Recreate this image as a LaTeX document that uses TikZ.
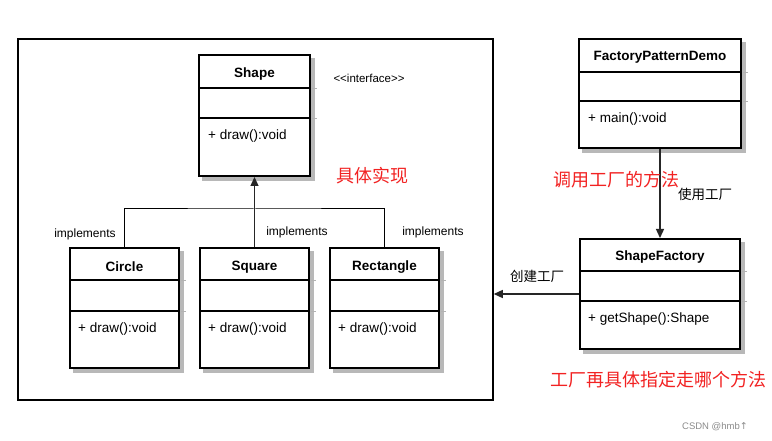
\documentclass[tikz,border=0pt]{standalone}
\usepackage{fontspec}
\setmainfont{Liberation Sans}
\newfontfamily\cjk{Noto Sans CJK SC}
\newfontfamily\djv{DejaVu Sans}
\usetikzlibrary{arrows.meta,backgrounds}
\definecolor{redtxt}{HTML}{F22222}
\begin{document}
\begin{tikzpicture}[x=1pt,y=-1pt,
  classbox/.style={draw=black, line width=2pt, fill=white, inner sep=0pt},
  shadowbox/.style={fill=black!28},
  divider/.style={line width=2pt},
  stub/.style={draw=black!30, line width=0.8pt},
  title/.style={font=\fontsize{13.5}{16}\selectfont\bfseries, inner sep=0pt, yshift=-2pt},
  method/.style={font=\fontsize{13.5}{16}\selectfont, anchor=west, inner sep=0pt, yshift=-2.5pt},
  small/.style={font=\fontsize{12}{14}\selectfont, inner sep=0pt, yshift=-1.5pt},
  redcn/.style={font=\fontsize{18}{21}\selectfont\cjk, text=redtxt, inner sep=0pt},
  cn/.style={font=\fontsize{13.5}{16}\selectfont\cjk, inner sep=0pt},
  conn/.style={line width=1.3pt, draw=black!85},
  thin/.style={line width=1pt, draw=black},
  tip/.style={-{Triangle[length=9pt,width=8pt]}}
]
\useasboundingbox (0,0) rectangle (772,441);

% big frame
\node[draw, line width=1.5pt, minimum width=475pt, minimum height=361pt, inner sep=0pt] (frame) at (255.5,219.5) {};

% Shape
\node[classbox, minimum width=111pt, minimum height=120.5pt] (shape) at (254.5,115.75) {};
\draw[divider] (shape.west |- 0,88) -- (shape.east |- 0,88);
\draw[divider] (shape.west |- 0,118) -- (shape.east |- 0,118);
\draw[stub] ([xshift=1pt]shape.east |- 0,88) -- ([xshift=6pt]shape.east |- 0,88);
\draw[stub] ([xshift=1pt]shape.east |- 0,118) -- ([xshift=6pt]shape.east |- 0,118);
\node[title] (shapet) at (254.5,72) {Shape};
\node[method] (shapem) at (208,134) {+ draw():void};

% Circle
\node[classbox, minimum width=109pt, minimum height=120pt] (circle) at (124.5,308) {};
\draw[divider] (circle.west |- 0,280) -- (circle.east |- 0,280);
\draw[divider] (circle.west |- 0,311) -- (circle.east |- 0,311);
\draw[stub] ([xshift=1pt]circle.east |- 0,280) -- ([xshift=6pt]circle.east |- 0,280);
\draw[stub] ([xshift=1pt]circle.east |- 0,311) -- ([xshift=6pt]circle.east |- 0,311);
\node[title] (circlet) at (124.5,265) {Circle};
\node[method] (circlem) at (78,327) {+ draw():void};

% Square
\node[classbox, minimum width=109pt, minimum height=120pt] (square) at (254.5,308) {};
\draw[divider] (square.west |- 0,280) -- (square.east |- 0,280);
\draw[divider] (square.west |- 0,311) -- (square.east |- 0,311);
\draw[stub] ([xshift=1pt]square.east |- 0,280) -- ([xshift=6pt]square.east |- 0,280);
\draw[stub] ([xshift=1pt]square.east |- 0,311) -- ([xshift=6pt]square.east |- 0,311);
\node[title] (squaret) at (254.5,265) {Square};
\node[method] (squarem) at (208,327) {+ draw():void};

% Rectangle
\node[classbox, minimum width=109pt, minimum height=120pt] (rect) at (384.5,308) {};
\draw[divider] (rect.west |- 0,280) -- (rect.east |- 0,280);
\draw[divider] (rect.west |- 0,311) -- (rect.east |- 0,311);
\draw[stub] ([xshift=1pt]rect.east |- 0,280) -- ([xshift=6pt]rect.east |- 0,280);
\draw[stub] ([xshift=1pt]rect.east |- 0,311) -- ([xshift=6pt]rect.east |- 0,311);
\node[title] (rectt) at (384.5,265) {Rectangle};
\node[method] (rectm) at (338,327) {+ draw():void};

% FactoryPatternDemo
\node[classbox, minimum width=162pt, minimum height=109pt] (demo) at (660,93.5) {};
\draw[divider] (demo.west |- 0,72) -- (demo.east |- 0,72);
\draw[divider] (demo.west |- 0,101) -- (demo.east |- 0,101);
\draw[stub] ([xshift=1pt]demo.east |- 0,72) -- ([xshift=6pt]demo.east |- 0,72);
\draw[stub] ([xshift=1pt]demo.east |- 0,101) -- ([xshift=6pt]demo.east |- 0,101);
\node[title] (demot) at (660,55) {FactoryPatternDemo};
\node[method] (demom) at (588,117) {+ main():void};

% ShapeFactory
\node[classbox, minimum width=160pt, minimum height=110pt] (factory) at (660,294) {};
\draw[divider] (factory.west |- 0,271) -- (factory.east |- 0,271);
\draw[divider] (factory.west |- 0,301) -- (factory.east |- 0,301);
\draw[stub] ([xshift=1pt]factory.east |- 0,271) -- ([xshift=6pt]factory.east |- 0,271);
\draw[stub] ([xshift=1pt]factory.east |- 0,301) -- ([xshift=6pt]factory.east |- 0,301);
\node[title] (factoryt) at (660,255) {ShapeFactory};
\node[method] (factorym) at (588,317) {+ getShape():Shape};

% shadows and white ground
\begin{scope}[on background layer]
  \fill[white] (0,0) rectangle (772,441);
  \foreach \b in {shape,circle,square,rect,demo,factory}{
    \fill[shadowbox] ([shift={(4,4)}]\b.north west) rectangle ([shift={(4,4)}]\b.south east);
  }
\end{scope}

% implements connectors
\coordinate (j) at (254.5,209);
\draw[thin] (circle.north) |- (j) -| (rect.north);
\draw[conn, tip] (square.north) -- (shape.south);

% right side connectors
\draw[conn, tip] (demo.south) -- (factory.north);
\draw[conn, tip] (factory.west) -- (frame.east |- factory.west);

% labels
\node[small, font=\fontsize{11.5}{14}\selectfont] (iface) at (369,77) {<\kern0pt<interface>\kern0pt>};
\node[small] (imp1) at (85,233) {implements};
\node[small] (imp2) at (297,231) {implements};
\node[small] (imp3) at (433,231) {implements};
\node[redcn] (r1) at (372,176) {具体实现};
\node[redcn] (r2) at (616,180) {调用工厂的方法};
\node[redcn] (r3) at (658,380) {工厂再具体指定走哪个方法};
\node[cn] (use) at (705,194) {使用工厂};
\node[cn] (create) at (537,276) {创建工厂};
\node[inner sep=0pt, text=black!45, font=\fontsize{9.5}{11}\selectfont] (wm) at (715,427) {CSDN @hmb{\djv ↑}};
\end{tikzpicture}
\end{document}
